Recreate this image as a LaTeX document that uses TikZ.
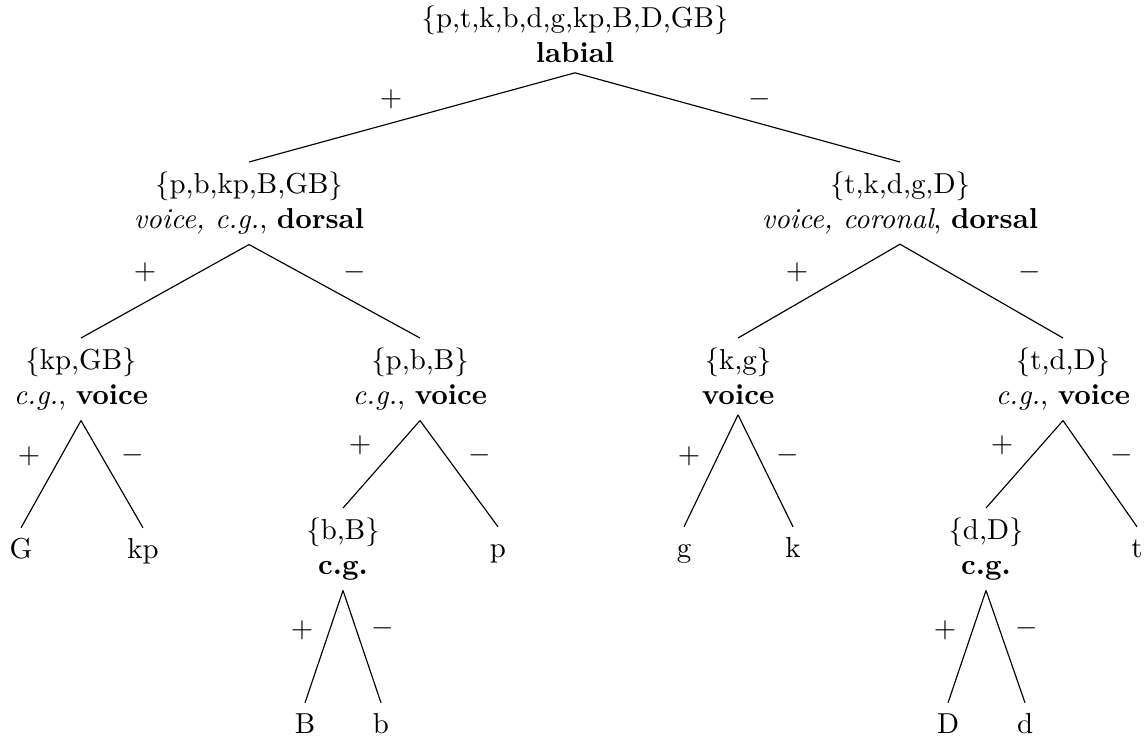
\documentclass[tikz,border=0pt]{standalone}
\begin{document}
\begin{tikzpicture}[x=0.3466pt,y=-0.3466pt,
  tn/.style={anchor=north,align=center,inner sep=3.33pt},
  leaf/.style={anchor=base,inner sep=3.33pt,text height=6.94pt},
  sg/.style={inner sep=0pt},
  edge/.style={line width=0.4pt}]
\useasboundingbox (0,0) rectangle (1148,738);
% tree nodes
\node[tn] (r) at (575,-4) {\{p,t,k,b,d,g,kp,B,D,GB\}\\\textbf{labial}};
\node[tn] (a) at (249,162) {\{p,b,kp,B,GB\}\\\textit{voice, c.g.}, \textbf{dorsal}};
\node[tn] (c) at (900,162) {\{t,k,d,g,D\}\\\textit{voice, coronal}, \textbf{dorsal}};
\node[tn] (aa) at (81,338) {\{kp,GB\}\\\textit{c.g.}, \textbf{voice}};
\node[tn] (ab) at (420,338) {\{p,b,B\}\\\textit{c.g.}, \textbf{voice}};
\node[tn] (ca) at (738,338) {\{k,g\}\\\textbf{voice}};
\node[tn] (cb) at (1063,338) {\{t,d,D\}\\\textit{c.g.}, \textbf{voice}};
\node[tn] (aba) at (343,508) {\{b,B\}\\\textbf{c.g.}};
\node[tn] (cba) at (986,508) {\{d,D\}\\\textbf{c.g.}};
% leaves
\node[leaf] (G) at (21,558) {G};
\node[leaf] (kp) at (143,558) {kp};
\node[leaf] (p) at (498,557) {p};
\node[leaf] (g) at (684,557) {g};
\node[leaf] (k) at (793,557) {k};
\node[leaf] (t) at (1137,557) {t};
\node[leaf] (B) at (305,733) {B};
\node[leaf] (b) at (381,733) {b};
\node[leaf] (D) at (948,733) {D};
\node[leaf] (d) at (1025,733) {d};
% edges
\draw[edge] (r.south) -- (a.north);
\draw[edge] (r.south) -- (c.north);
\draw[edge] (a.south) -- (aa.north);
\draw[edge] (a.south) -- (ab.north);
\draw[edge] (c.south) -- (ca.north);
\draw[edge] (c.south) -- (cb.north);
\draw[edge] (aa.south) -- (G.north);
\draw[edge] (aa.south) -- (kp.north);
\draw[edge] (ab.south) -- (aba.north);
\draw[edge] (ab.south) -- (p.north);
\draw[edge] (ca.south) -- (g.north);
\draw[edge] (ca.south) -- (k.north);
\draw[edge] (cb.south) -- (cba.north);
\draw[edge] (cb.south) -- (t.north);
\draw[edge] (aba.south) -- (B.north);
\draw[edge] (aba.south) -- (b.north);
\draw[edge] (cba.south) -- (D.north);
\draw[edge] (cba.south) -- (d.north);
% signs
\node[sg] (s1) at (391,99) {$+$};
\node[sg] (s2) at (760,99) {$-$};
\node[sg] (s3) at (145,272) {$+$};
\node[sg] (s4) at (355,272) {$-$};
\node[sg] (s5) at (797,272) {$+$};
\node[sg] (s6) at (1030,272) {$-$};
\node[sg] (s7) at (29,456) {$+$};
\node[sg] (s8) at (133,455) {$-$};
\node[sg] (s9) at (360,445) {$+$};
\node[sg] (s10) at (480,455) {$-$};
\node[sg] (s11) at (689,456) {$+$};
\node[sg] (s12) at (788,455) {$-$};
\node[sg] (s13) at (1002,445) {$+$};
\node[sg] (s14) at (1122,455) {$-$};
\node[sg] (s15) at (302,630) {$+$};
\node[sg] (s16) at (383,628) {$-$};
\node[sg] (s17) at (945,630) {$+$};
\node[sg] (s18) at (1027,628) {$-$};
\end{tikzpicture}
\end{document}
